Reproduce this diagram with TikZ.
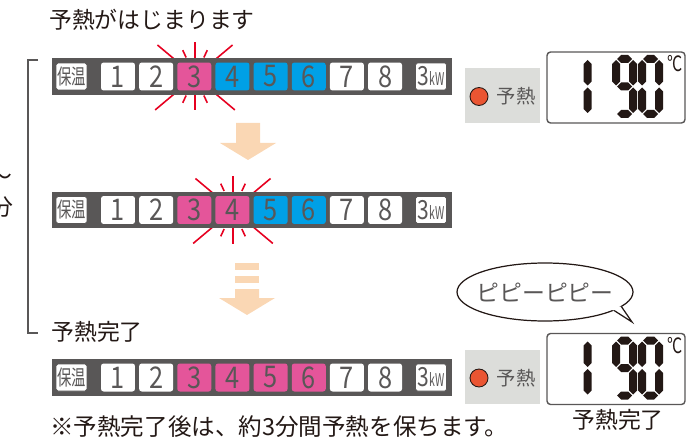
\documentclass[tikz,border=0pt]{standalone}
\usepackage{fontspec}
\setmainfont{Noto Sans CJK JP}
\usetikzlibrary{shapes.geometric,calc}

\definecolor{bargray}{HTML}{595757}
\definecolor{txtgray}{HTML}{595757}
\definecolor{txtdark}{HTML}{231815}
\definecolor{keypink}{HTML}{E4559A}
\definecolor{keyblue}{HTML}{00A0E6}
\definecolor{burstred}{HTML}{E60020}
\definecolor{arrowpeach}{HTML}{FAD7B4}
\definecolor{panelgray}{HTML}{DCDDDA}
\definecolor{ledred}{HTML}{EA5532}

% one row of the power keys
\newcommand{\keyrow}[3]{%
  \node[bar] (bar#1) at (252,#2) {};
  \node[sidekey] (bar#1-h) at (71.5,#2) {\scalebox{0.68}[1]{保温}};
  \foreach \c [count=\n] in {#3}
    \node[key, fill=\c] (bar#1-\n) at (118+38.15*\n-38.15,#2) {\scalebox{0.85}[1]{\n}};
  \node[sidekey] (bar#1-kw) at (431,#2)
    {\scalebox{0.8}[1]{{\fontsize{15}{15}\selectfont 3}{\fontsize{10}{10}\selectfont\scalebox{0.75}[1]{kW}}}};
}
% red flash round a key
\newcommand{\burst}[1]{%
  \foreach \a/\ri/\ro in {90/18/34, 270/18/34, 65/21/29, 115/21/29, 245/21/29,
      295/21/29, 40/26/52, 140/26/52, 220/26/49, 320/26/49}
    \draw[burstline] ($(#1)+(\a:\ri)$) -- ($(#1)+(\a:\ro)$);
}
% segments of the display digits
\newcommand{\hseg}[3]{\fill[lcdseg] (#1+1,#3) -- (#1+5,#3-4) -- (#2-5,#3-4)
  -- (#2-1,#3) -- (#2-5,#3+4) -- (#1+5,#3+4) -- cycle;}
\newcommand{\vseg}[3]{\fill[lcdseg] (#1,#2+1) -- (#1+4,#2+5) -- (#1+4,#3-5)
  -- (#1,#3-1) -- (#1-4,#3-5) -- (#1-4,#2+5) -- cycle;}
\newcommand{\lcdpanel}[1]{%
  \node[lcd] (#1) at (616,87.5) {};
  % 1
  \vseg{587.5}{59}{86.5}\vseg{587.5}{86.5}{114}
  % 9
  \hseg{616}{633}{59}\hseg{616}{633}{86.5}\hseg{616}{633}{114}
  \vseg{633}{59}{86.5}\vseg{633}{86.5}{114}\vseg{616}{59}{86.5}
  % 0
  \hseg{642}{659}{59}\hseg{642}{659}{114}
  \vseg{659}{59}{86.5}\vseg{659}{86.5}{114}
  \vseg{642}{59}{86.5}\vseg{642}{86.5}{114}
  \node[degree] (#1-deg) at (675,64) {\scalebox{0.75}[1]{°C}};
}
\newcommand{\ledpanel}[2]{%
  \node[ledbox] (#1) at (502.5,#2) {};
  \node[led] (#1-led) at (479,#2+1) {};
  \node[ledtext] (#1-text) at (516,#2+1) {予熱};
}

\begin{document}
\begin{tikzpicture}[x=0.02cm, y=-0.02cm,
    caption/.style={text=txtdark, font=\fontsize{13}{15}\selectfont, inner sep=0pt},
    bar/.style={fill=bargray, minimum width=8cm, minimum height=0.74cm, inner sep=0pt},
    key/.style={rounded corners=1.5pt, minimum width=0.68cm, minimum height=0.56cm,
        inner sep=0pt, text=txtgray, font=\fontsize{17}{17}\selectfont},
    sidekey/.style={fill=white, draw=txtgray, line width=0.4pt, rounded corners=1pt,
        minimum width=0.62cm, minimum height=0.54cm, inner sep=0pt, text=txtgray,
        font=\fontsize{12}{12}\selectfont},
    burstline/.style={burstred, line width=0.9pt},
    arrowfill/.style={fill=arrowpeach},
    bracket/.style={draw=txtgray, line width=0.9pt},
    ledbox/.style={fill=panelgray, minimum width=1.5cm, minimum height=1.1cm, inner sep=0pt},
    led/.style={circle, fill=ledred, draw=txtdark, line width=0.5pt, minimum size=0.36cm, inner sep=0pt},
    ledtext/.style={text=txtgray, font=\fontsize{11}{11}\selectfont, inner sep=0pt},
    lcd/.style={draw=txtgray, fill=white, line width=0.8pt, rounded corners=2pt,
        minimum width=2.76cm, minimum height=1.42cm, inner sep=0pt},
    lcdseg/.style={fill=txtdark},
    degree/.style={text=txtdark, font=\fontsize{12}{12}\selectfont, inner sep=0pt},
    bubble/.style={ellipse, draw=txtdark, fill=white, line width=0.7pt,
        minimum width=3.52cm, minimum height=1.16cm, inner sep=0pt},
]
    \useasboundingbox (0,0) rectangle (699,442);

    % Captions
    \node[caption] (title) at (152,20) {予熱がはじまります};
    \node[caption] (done) at (97,332) {予熱完了};
    \node[caption, anchor=west, font=\fontsize{13.4}{15}\selectfont] (note) at (50,427)
        {※予熱完了後は、約3分間予熱を保ちます。};
    \node[caption] (wave) at (1,179) {〜};
    \node[caption] (minutes) at (2,207) {分};

    % Bracket on the left
    \coordinate (brtop) at (38,60);
    \coordinate (brbot) at (38,333);
    \draw[bracket] (brtop) -- (28,60) -- (28,333) -- (brbot);

    % Key rows
    \coordinate (flash1) at (195,76.5);
    \burst{flash1}
    \keyrow{1}{76.5}{white,white,keypink,keyblue,keyblue,keyblue,white,white}

    \coordinate (flash2) at (233,210);
    \burst{flash2}
    \keyrow{2}{210}{white,white,keypink,keypink,keyblue,keyblue,white,white}

    \keyrow{3}{377.5}{white,white,keypink,keypink,keypink,keypink,white,white}

    % Arrows between the rows
    \fill[arrowfill] (236,123) -- (260,123) -- (260,143) -- (276,143) -- (248,160)
        -- (220,143) -- (236,143) -- cycle;
    \fill[arrowfill] (235,263) rectangle (259,270);
    \fill[arrowfill] (235,276) rectangle (259,283);
    \fill[arrowfill] (235,289) -- (259,289) -- (259,298) -- (275,298) -- (247,315)
        -- (219,298) -- (235,298) -- cycle;

    % Display, top
    \ledpanel{lamp1}{95.5}
    \lcdpanel{lcd1}

    % Display, bottom
    \ledpanel{lamp2}{377}
    \begin{scope}[shift={(0,281.5)}]
        \lcdpanel{lcd2}
    \end{scope}
    \node[caption] (donelcd) at (618,420) {予熱完了};

    % Speech bubble
    \node[bubble] (bubble) at (545,292) {};
    \node[caption, text=txtgray] (beep) at (bubble.center) {ピピーピピー};
    \coordinate (tip) at (632,322);
    \fill[white] ($(bubble.center)!0.85!(bubble.-11)$) -- (bubble.-11) -- (tip)
        -- (bubble.-15) -- ($(bubble.center)!0.85!(bubble.-15)$) -- cycle;
    \draw[draw=txtdark, line width=0.7pt, line join=miter] (bubble.-11) -- (tip) -- (bubble.-15);
\end{tikzpicture}
\end{document}
